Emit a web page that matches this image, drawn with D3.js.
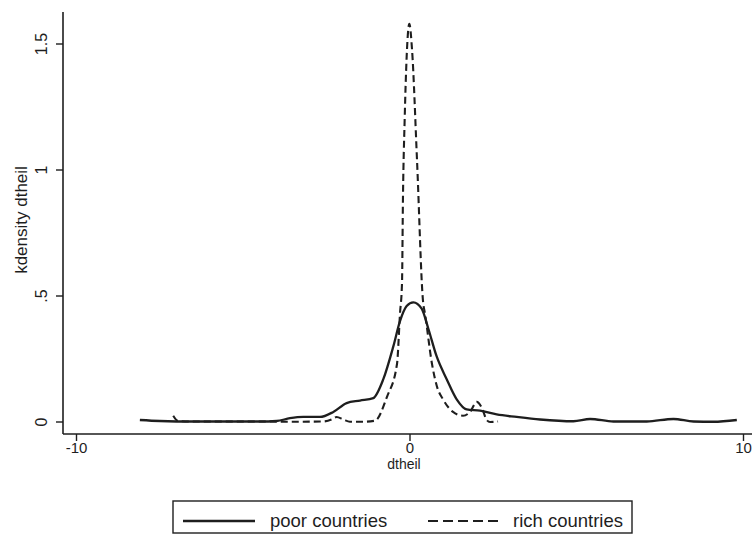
<!DOCTYPE html>
<html>
<head>
<meta charset="utf-8">
<script src="https://cdn.jsdelivr.net/npm/d3@7"></script>
<style>
  html, body { margin: 0; padding: 0; background: #fff; }
  svg { display: block; font-family: "Liberation Sans", Arial, Helvetica, sans-serif; }
</style>
</head>
<body>
<svg id="chart" width="756" height="535"></svg>
<script>
// ---- data ----
const poorX = [-8.1, -7.5, -6.5, -5.5, -4.5, -4.0, -3.6, -3.2, -2.7, -2.3, -1.9, -1.5, -1.1, -0.8, -0.5, -0.3, -0.1, 0.1, 0.35, 0.55, 0.8, 1.1, 1.4, 1.7, 2.1, 2.6, 3.2, 3.9, 4.9, 5.4, 6.1, 7.1, 7.9, 8.5, 9.1, 9.8];
const poorY = [0.008, 0.004, 0.002, 0.002, 0.002, 0.004, 0.015, 0.02, 0.02, 0.04, 0.075, 0.085, 0.095, 0.17, 0.30, 0.40, 0.46, 0.475, 0.45, 0.37, 0.26, 0.17, 0.09, 0.05, 0.045, 0.03, 0.02, 0.01, 0.003, 0.012, 0.002, 0.002, 0.012, 0.002, 0.001, 0.008];

const richX = [-7.1, -6.95, -6.5, -5.5, -4.5, -3.5, -2.6, -2.35, -2.2, -2.0, -1.8, -1.4, -1.05, -0.69, -0.39, -0.30, -0.24, -0.21, -0.16, -0.1, -0.02, 0.06, 0.21, 0.39, 0.45, 0.66, 0.81, 0.99, 1.29, 1.59, 1.8, 2.0, 2.16, 2.3, 2.4, 2.64];
const richY = [0.025, 0.004, 0.002, 0.002, 0.002, 0.001, 0.002, 0.01, 0.02, 0.01, 0.001, 0.001, 0.005, 0.10, 0.23, 0.43, 0.55, 0.9, 1.2, 1.45, 1.58, 1.48, 1.04, 0.48, 0.43, 0.23, 0.14, 0.09, 0.04, 0.025, 0.04, 0.08, 0.055, 0.008, 0.0, 0.002];

const xTicks = [-10, 0, 10];
const xTickLabels = ["-10", "0", "10"];
const yTicks = [0, 0.5, 1, 1.5];
const yTickLabels = ["0", ".5", "1", "1.5"];
const seriesNames = ["poor countries", "rich countries"];
const xTitle = "dtheil";
const yTitle = "kdensity dtheil";

// ---- layout ----
const ink = "#1e1e1e";
const svg = d3.select("#chart");
const axisX0 = 63, axisY0 = 434, axisTop = 12, axisRight = 752;

const x = d3.scaleLinear().domain([-10, 10]).range([76.5, 743.5]);
const y = d3.scaleLinear().domain([0, 1.5]).range([422, 44]);

// axes lines
svg.append("line").attr("x1", axisX0).attr("x2", axisX0).attr("y1", axisTop).attr("y2", axisY0)
  .attr("stroke", ink).attr("stroke-width", 1.6);
svg.append("line").attr("x1", axisX0).attr("x2", axisRight).attr("y1", axisY0).attr("y2", axisY0)
  .attr("stroke", ink).attr("stroke-width", 1.6);

// y ticks
const yg = svg.append("g");
yTicks.forEach((t, i) => {
  yg.append("line").attr("x1", axisX0 - 7).attr("x2", axisX0).attr("y1", y(t)).attr("y2", y(t))
    .attr("stroke", ink).attr("stroke-width", 1.4);
  yg.append("text").attr("transform", `translate(47,${y(t)}) rotate(-90)`)
    .attr("text-anchor", "middle").attr("font-size", 16).attr("fill", ink).text(yTickLabels[i]);
});
// x ticks
const xg = svg.append("g");
xTicks.forEach((t, i) => {
  xg.append("line").attr("x1", x(t)).attr("x2", x(t)).attr("y1", axisY0).attr("y2", axisY0 + 7)
    .attr("stroke", ink).attr("stroke-width", 1.4);
  xg.append("text").attr("x", x(t)).attr("y", 453).attr("text-anchor", "middle")
    .attr("font-size", 15).attr("fill", ink).text(xTickLabels[i]);
});

// titles
svg.append("text").attr("x", 404).attr("y", 469).attr("text-anchor", "middle")
  .attr("font-size", 14).attr("fill", ink).text(xTitle);
svg.append("text").attr("transform", "translate(27,220) rotate(-90)")
  .attr("text-anchor", "middle").attr("font-size", 17).attr("fill", ink).text(yTitle);

// curves
const line = d3.line().x(d => x(d[0])).y(d => y(d[1])).curve(d3.curveMonotoneX);
const poor = poorX.map((v, i) => [v, poorY[i]]);
const rich = richX.map((v, i) => [v, richY[i]]);

svg.append("path").datum(poor).attr("d", line).attr("fill", "none")
  .attr("stroke", ink).attr("stroke-width", 2.3).attr("stroke-linejoin", "round");
svg.append("path").datum(rich).attr("d", line).attr("fill", "none")
  .attr("stroke", ink).attr("stroke-width", 2.1).attr("stroke-dasharray", "7,4");

// legend
const lg = svg.append("g");
lg.append("rect").attr("x", 173).attr("y", 501).attr("width", 459).attr("height", 32)
  .attr("fill", "#fff").attr("stroke", ink).attr("stroke-width", 1.4);
lg.append("line").attr("x1", 183).attr("x2", 255).attr("y1", 521).attr("y2", 521)
  .attr("stroke", ink).attr("stroke-width", 2.3);
lg.append("text").attr("x", 270).attr("y", 527).attr("font-size", 18.5).attr("fill", ink).text(seriesNames[0]);
lg.append("line").attr("x1", 428).attr("x2", 502).attr("y1", 521).attr("y2", 521)
  .attr("stroke", ink).attr("stroke-width", 2.1).attr("stroke-dasharray", "10,5");
lg.append("text").attr("x", 513).attr("y", 527).attr("font-size", 18.5).attr("fill", ink).text(seriesNames[1]);
</script>
</body>
</html>
